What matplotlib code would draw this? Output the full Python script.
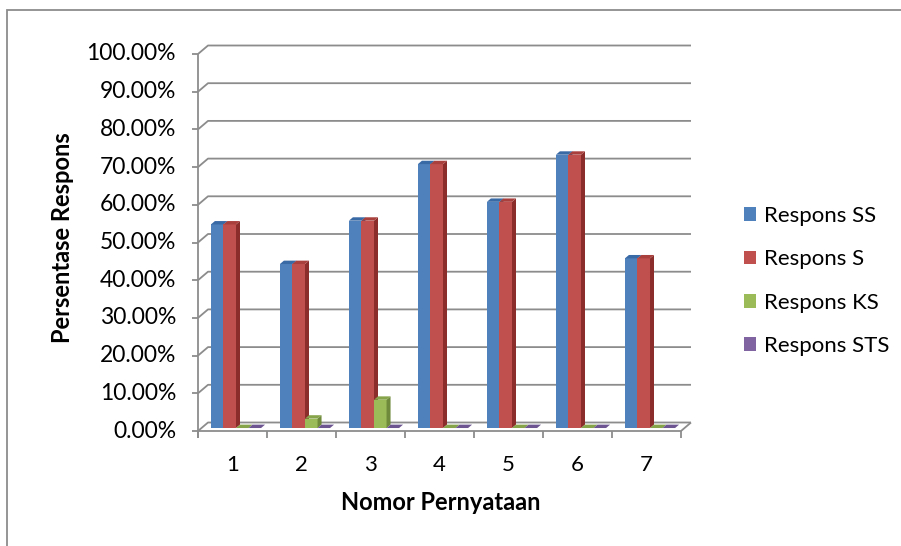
import matplotlib
matplotlib.use("Agg")
import matplotlib.pyplot as plt
from matplotlib.patches import Polygon, Rectangle, Patch

# ---- data -------------------------------------------------------------
categories = ["1", "2", "3", "4", "5", "6", "7"]
series_names = ["Respons SS", "Respons S", "Respons KS", "Respons STS"]
respons_ss = [54.0, 43.5, 55.0, 70.0, 60.0, 72.5, 45.0]
respons_s = [54.0, 43.5, 55.0, 70.0, 60.0, 72.5, 45.0]
respons_ks = [0.0, 2.5, 7.5, 0.0, 0.0, 0.0, 0.0]
respons_sts = [0.0, 0.0, 0.0, 0.0, 0.0, 0.0, 0.0]
y_ticks = [0, 10, 20, 30, 40, 50, 60, 70, 80, 90, 100]
y_tick_labels = [f"{v:.2f}%" for v in y_ticks]

series_values = [respons_ss, respons_s, respons_ks, respons_sts]
# front, side, top colours for each series
face_colors = ["#4F81BD", "#C0504D", "#9BBB59", "#8064A2"]
side_colors = ["#2F5A8E", "#8B2D2B", "#6E8A3A", "#5A4378"]
top_colors = ["#3A6AA6", "#A9403D", "#86A44A", "#6C5590"]

FONT = "Lato"
W, H = 901, 546
fig = plt.figure(figsize=(W / 100, H / 100), dpi=100)

# plot area in pixels
px_cat = 69.0         # pixels per category
px_pct = 3.77         # pixels per percent
x0_px, y0_px = 198.0, 431.0
xmax, ymax = 7.3, 103.7
ax = fig.add_axes([x0_px / W, (H - y0_px) / H,
                   xmax * px_cat / W, ymax * px_pct / H])
ax.set_xlim(0, xmax)
ax.set_ylim(0, ymax)
ax.axis("off")

# 3-D depth of the plot box, in data units
DX = 10.0 / px_cat
DY = 8.5 / px_pct
grid_col = "#8C8C8C"
lw = 1.3
n = len(categories)

def line(xs, ys, **kw):
    ax.plot(xs, ys, color=grid_col, lw=lw, clip_on=False,
            solid_capstyle="butt", zorder=1, **kw)

# back-wall gridlines with their slanted side-wall segment
for v in y_ticks:
    line([0, DX, n + DX], [v, v + DY, v + DY])
    line([-6 / px_cat, 0], [v, v])          # value tick
# front axis, floor edges and category ticks
line([0, 0], [-7 / px_pct, 100])
line([0, n, n + DX], [0, 0, DY])
for i in range(n + 1):
    line([i, i], [0, -7 / px_pct])

# tick labels
for v, lab in zip(y_ticks, y_tick_labels):
    ax.text(-22 / px_cat, v, lab, ha="right", va="center", fontsize=16.5,
            family=FONT, clip_on=False)
for i, c in enumerate(categories):
    ax.text(i + 0.5, -34 / px_pct, c, ha="center", va="center",
            fontsize=16, family=FONT, clip_on=False)

# bars
w = 1.0 / (len(series_values) + 1.5)
f_depth = 0.35
bd = 0.4
bdx, bdy = bd * DX, bd * DY
base = f_depth * DY
for s, vals in enumerate(series_values):
    lefts = [i + 0.75 * w + f_depth * DX + s * w for i in range(n)]
    ax.bar(lefts, vals, width=w, bottom=base, align="edge",
           color=face_colors[s], linewidth=0, zorder=3 + s, clip_on=False)
    for xl, v in zip(lefts, vals):
        top = base + v
        xr = xl + w
        ax.add_patch(Polygon([(xr, base), (xr + bdx, base + bdy),
                              (xr + bdx, top + bdy), (xr, top)],
                             closed=True, fc=side_colors[s], lw=0,
                             zorder=3 + s + 0.1, clip_on=False))
        ax.add_patch(Polygon([(xl, top), (xr, top), (xr + bdx, top + bdy),
                              (xl + bdx, top + bdy)],
                             closed=True, fc=top_colors[s], lw=0,
                             zorder=3 + s + 0.2, clip_on=False))

# axis titles
fig.text(63 / W, 1 - 238 / H, "Persentase Respons", rotation=90,
         ha="center", va="center", fontsize=17, fontweight="bold",
         family=FONT)
fig.text(441 / W, 1 - 503 / H, "Nomor Pernyataan", ha="center",
         va="center", fontsize=17, fontweight="bold", family=FONT)

# legend
handles = [Patch(facecolor=c, edgecolor="none") for c in face_colors]
fig.legend(handles, series_names, loc="center left",
           bbox_to_anchor=(735 / W, 1 - 281 / H), frameon=False,
           prop={"family": FONT, "size": 16}, handlelength=0.55,
           handleheight=0.55, handletextpad=0.35, labelspacing=1.05,
           borderaxespad=0)

# chart frame
fig.patches.append(Rectangle((7 / W, -0.05), 1.1, 1 - 10 / H + 0.05,
                             transform=fig.transFigure, fill=False,
                             ec="#8C8C8C", lw=1.3))

fig.savefig("out.png", dpi=100)
